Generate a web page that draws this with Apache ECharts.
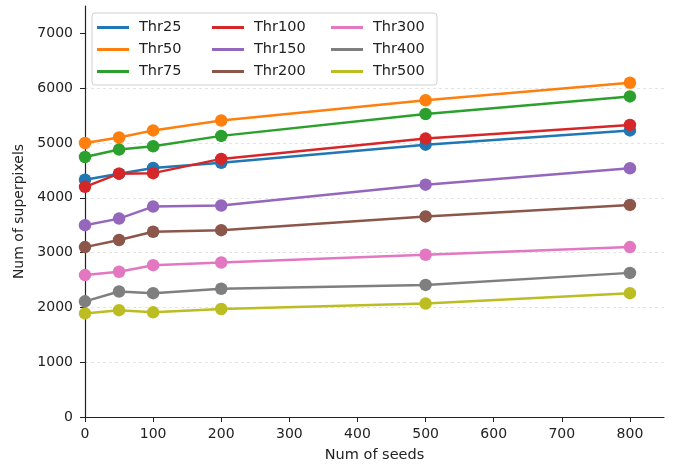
<!DOCTYPE html>
<html>
<head>
<meta charset="utf-8">
<script src="https://cdn.jsdelivr.net/npm/echarts@6/dist/echarts.min.js"></script>
<style>
  html, body { margin: 0; padding: 0; background: #fff; }
  #chart { width: 674px; height: 468px; }
</style>
</head>
<body>
<div id="chart"></div>
<script>
// Number of seeds used for each run
const seeds = [0, 50, 100, 200, 500, 800];

// Resulting superpixel counts per threshold
const thr25  = [4330, 4440, 4545, 4640, 4970, 5230];
const thr50  = [5000, 5100, 5230, 5410, 5780, 6100];
const thr75  = [4745, 4880, 4940, 5130, 5530, 5850];
const thr100 = [4200, 4440, 4450, 4710, 5080, 5330];
const thr150 = [3500, 3620, 3840, 3860, 4240, 4540];
const thr200 = [3100, 3230, 3380, 3410, 3660, 3870];
const thr300 = [2590, 2650, 2770, 2820, 2960, 3100];
const thr400 = [2110, 2290, 2260, 2340, 2410, 2630];
const thr500 = [1890, 1950, 1910, 1970, 2070, 2260];

// Tick positions on both axes
const xTicks = [0, 100, 200, 300, 400, 500, 600, 700, 800];
const yTicks = [0, 1000, 2000, 3000, 4000, 5000, 6000, 7000];

const seriesNames = ['Thr25', 'Thr50', 'Thr75', 'Thr100', 'Thr150', 'Thr200', 'Thr300', 'Thr400', 'Thr500'];
const seriesValues = [thr25, thr50, thr75, thr100, thr150, thr200, thr300, thr400, thr500];
const colors = ['#1f77b4', '#ff7f0e', '#2ca02c', '#d62728', '#9467bd', '#8c564b', '#e377c2', '#7f7f7f', '#bcbd22'];

const FONT = 'DejaVu Sans';
const chart = echarts.init(document.getElementById('chart'), null, { renderer: 'canvas' });

const series = seriesNames.map((name, i) => ({
  name: name,
  type: 'line',
  data: seeds.map((s, j) => [s, seriesValues[i][j]]),
  symbol: 'circle',
  symbolSize: 12.5,
  lineStyle: { width: 2.5, color: colors[i] },
  itemStyle: { color: colors[i] },
  emphasis: { disabled: true },
  animation: false
}));

// legend split into three columns of three entries
function legendColumn(names, left) {
  return {
    data: names,
    orient: 'vertical',
    left: left,
    top: 19,
    z: 20,
    padding: 0,
    itemWidth: 32,
    itemHeight: 3,
    itemGap: 5,
    icon: 'rect',
    textStyle: { fontFamily: FONT, fontSize: 14.5, color: '#222', lineHeight: 17, padding: [0, 0, 0, 5] },
    selectedMode: false
  };
}

chart.setOption({
  color: colors,
  animation: false,
  grid: { left: 85, right: 10, top: 6, bottom: 50, containLabel: false },
  xAxis: {
    type: 'value',
    min: 0,
    max: 850,
    interval: 100,
    name: 'Num of seeds',
    nameLocation: 'middle',
    nameGap: 31,
    nameTextStyle: { fontFamily: FONT, fontSize: 14.5, color: '#222' },
    axisLine: { show: true, lineStyle: { color: '#222', width: 1.2 } },
    axisTick: { show: true, length: 5, lineStyle: { color: '#222' }, customValues: xTicks },
    axisLabel: { fontFamily: FONT, fontSize: 14, color: '#222', margin: 10, customValues: xTicks },
    splitLine: { show: false }
  },
  yAxis: {
    type: 'value',
    min: 0,
    max: 7500,
    interval: 500,
    name: 'Num of superpixels',
    nameLocation: 'middle',
    nameGap: 56,
    nameTextStyle: { fontFamily: FONT, fontSize: 14, color: '#222' },
    axisLine: { show: true, lineStyle: { color: '#222', width: 1.2 } },
    axisTick: { show: true, length: 5, lineStyle: { color: '#222' }, customValues: yTicks },
    axisLabel: {
      fontFamily: FONT, fontSize: 14, color: '#222', margin: 12,
      customValues: yTicks, formatter: v => String(v)
    },
    splitLine: {
      show: true, showMinLine: false, showMaxLine: false,
      interval: (idx, v) => Number(v) % 1000 === 0,
      lineStyle: { color: '#dddddd', type: [3, 3], width: 0.8 }
    }
  },
  legend: [
    legendColumn(seriesNames.slice(0, 3), 97),
    legendColumn(seriesNames.slice(3, 6), 212),
    legendColumn(seriesNames.slice(6, 9), 331)
  ],
  graphic: [{
    type: 'rect',
    shape: { x: 92, y: 13, width: 345, height: 72, r: 3 },
    style: { fill: 'rgba(255,255,255,0.85)', stroke: '#d0d0d0', lineWidth: 1 },
    z: 10
  }],
  series: series
});
</script>
</body>
</html>
